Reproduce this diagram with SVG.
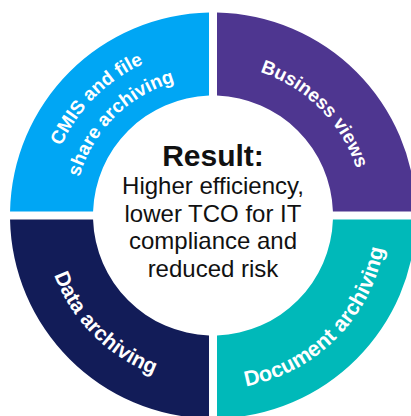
<svg xmlns="http://www.w3.org/2000/svg" xmlns:xlink="http://www.w3.org/1999/xlink" width="411" height="416" viewBox="0 0 411 416">
<style>
.lbl{font-family:"Liberation Sans",Arial,sans-serif;font-weight:bold;fill:#fff;}
.ctr{font-family:"Liberation Sans",Arial,sans-serif;fill:#111;text-anchor:middle;}
</style>
<defs>
<path id="pBiz" d="M186.78,66.79 A151,151 0 0 1 361.71,241.72"/>
<path id="pCmisO" d="M48.54,244.5 A167,167 0 0 1 242,51.04"/>
<path id="pCmisI" d="M76.11,239.64 A139,139 0 0 1 237.14,78.61"/>
<path id="pData" d="M46.07,186.07 A169.5,169.5 0 0 0 242.43,382.43"/>
<path id="pDoc" d="M182.87,386.36 A172.5,172.5 0 0 0 383.86,185.37"/>
</defs>
<rect width="411" height="416" fill="#fff"/>
<g id="cmis">
<path d="M209,12.54 A203,203 0 0 0 10.04,211.5 L93.07,211.5 A120,120 0 0 1 209,95.57 Z" fill="#00a6f4"/>
<text class="lbl" font-size="19"><textPath xlink:href="#pCmisO" startOffset="50%" text-anchor="middle">CMIS and file</textPath></text>
<text class="lbl" font-size="19"><textPath xlink:href="#pCmisI" startOffset="50%" text-anchor="middle">share archiving</textPath></text>
</g>
<g id="business">
<path d="M217,12.54 A203,203 0 0 1 415.96,211.5 L332.93,211.5 A120,120 0 0 0 217,95.57 Z" fill="#4e3690"/>
<text class="lbl" font-size="19"><textPath xlink:href="#pBiz" startOffset="50%" text-anchor="middle">Business views</textPath></text>
</g>
<g id="data">
<path d="M10.04,219.5 A203,203 0 0 0 209,418.46 L209,335.43 A120,120 0 0 1 93.07,219.5 Z" fill="#121c58"/>
<text class="lbl" font-size="21"><textPath xlink:href="#pData" startOffset="50%" text-anchor="middle">Data archiving</textPath></text>
</g>
<g id="document">
<path d="M217,418.46 A203,203 0 0 0 415.96,219.5 L332.93,219.5 A120,120 0 0 1 217,335.43 Z" fill="#00b9b9"/>
<text class="lbl" font-size="21.5"><textPath xlink:href="#pDoc" startOffset="50%" text-anchor="middle">Document archiving</textPath></text>
</g>
<g id="result">
<text class="ctr" x="213" y="165.5" font-size="30" font-weight="bold">Result:</text>
<text class="ctr" x="213" y="194" font-size="24">Higher efficiency,</text>
<text class="ctr" x="213" y="221.5" font-size="24">lower TCO for IT</text>
<text class="ctr" x="213" y="249" font-size="24">compliance and</text>
<text class="ctr" x="213" y="276.5" font-size="24">reduced risk</text>
</g>
<g id="connectors"></g>
</svg>
